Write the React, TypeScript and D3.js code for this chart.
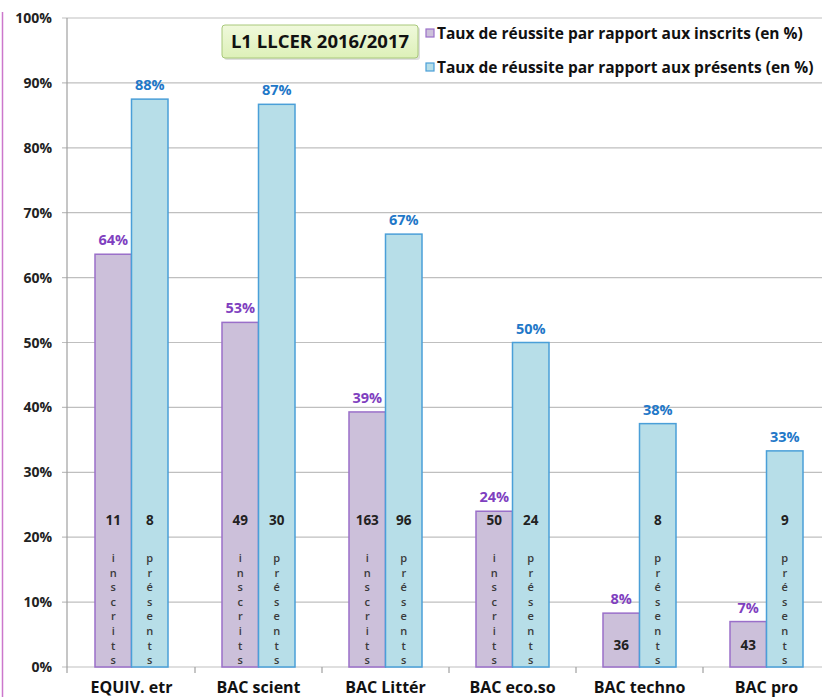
import React from "react";
import * as d3 from "d3";

const categories = ["EQUIV. etr", "BAC scient", "BAC Littér", "BAC eco.so", "BAC techno", "BAC pro"];
const inscritsRate = [63.6, 53.1, 39.3, 24.0, 8.3, 7.0];
const presentsRate = [87.5, 86.7, 66.7, 50.0, 37.5, 33.3];
const inscritsCount = [11, 49, 163, 50, 36, 43];
const presentsCount = [8, 30, 96, 24, 8, 9];
const yTicks = [0, 10, 20, 30, 40, 50, 60, 70, 80, 90, 100];
const titleText = "L1 LLCER 2016/2017";
const legendLabels = [
  "Taux de réussite par rapport aux inscrits (en %)",
  "Taux de réussite par rapport aux présents (en %)",
];
const wordInscrits = "inscrits";
const wordPresents = "présents";

const W = 822;
const H = 697;
const FONT = "'Open Sans', Lato, sans-serif";

const purpleFill = "#CCC0DA";
const purpleStroke = "#9A6FC9";
const purpleText = "#7F3FBF";
const blueFill = "#B7DEE8";
const blueStroke = "#4A9FD8";
const blueText = "#1F78C8";

export default function App() {
  const y = d3.scaleLinear().domain([0, 100]).range([667, 18]);
  const x = d3.scaleBand<string>().domain(categories).range([68, 830]).padding(0);
  const bw = 36.5;
  const series = [
    { rates: inscritsRate, counts: inscritsCount, word: wordInscrits, fill: purpleFill, stroke: purpleStroke, text: purpleText, off: -bw },
    { rates: presentsRate, counts: presentsCount, word: wordPresents, fill: blueFill, stroke: blueStroke, text: blueText, off: 0 },
  ];

  return (
    <svg width={W} height={H} style={{ position: "absolute", left: 0, top: 0, background: "#fff" }} fontFamily={FONT}>
      <rect x={0} y={0} width={W} height={H} fill="#fff" />
      {/* left border */}
      <line x1={2.5} x2={2.5} y1={12} y2={H} stroke="#CC77CC" strokeWidth={1.5} />
      {/* gridlines */}
      {yTicks.map((t) => (
        <line key={"g" + t} x1={62} x2={W} y1={y(t)} y2={y(t)} stroke="#BFBFBF" strokeWidth={1.2} />
      ))}
      {/* y axis */}
      <line x1={67} x2={67} y1={y(100)} y2={y(0) + 6} stroke="#A0A0A0" strokeWidth={1.2} />
      {yTicks.map((t) => (
        <text key={"yt" + t} x={52} y={y(t) + 5} textAnchor="end" fontSize={14} fontWeight={700} fill="#222">
          {t + "%"}
        </text>
      ))}
      {/* x ticks between categories */}
      {categories.slice(1).map((c) => (
        <line key={"xt" + c} x1={x(c)!} x2={x(c)!} y1={y(0)} y2={y(0) + 6} stroke="#A0A0A0" strokeWidth={1.2} />
      ))}
      {/* bars */}
      {categories.map((c, i) => {
        const cx = x(c)! + x.bandwidth() / 2;
        return (
          <g key={"b" + c}>
            {series.map((s, si) => {
              const v = s.rates[i];
              const bx = cx + s.off;
              const top = y(v);
              const countY = v > 20 ? y(21.9) : y(2.6);
              return (
                <g key={si}>
                  <rect x={bx} y={top} width={bw} height={y(0) - top} fill={s.fill} stroke={s.stroke} strokeWidth={1.5} />
                  <text x={bx + bw / 2} y={top - 9} textAnchor="middle" fontSize={14.5} fontWeight={700} fill={s.text}>
                    {Math.round(v) + "%"}
                  </text>
                  <text x={bx + bw / 2} y={countY} textAnchor="middle" fontSize={13.5} fontWeight={700} fill="#222">
                    {s.counts[i]}
                  </text>
                  {v > 20 &&
                    s.word.split("").map((ch, k) => (
                      <text key={k} x={bx + bw / 2} y={562 + k * 14.6} textAnchor="middle" fontSize={11} fontWeight={600} fill="#3a3a3a">
                        {ch}
                      </text>
                    ))}
                </g>
              );
            })}
            <text x={cx} y={693} textAnchor="middle" fontSize={16} fontWeight={700} fill="#111">
              {c}
            </text>
          </g>
        );
      })}
      {/* title box */}
      <defs>
        <linearGradient id="tg" x1="0" y1="0" x2="0" y2="1">
          <stop offset="0" stopColor="#F0F9DC" />
          <stop offset="1" stopColor="#DDF0B8" />
        </linearGradient>
      </defs>
      <rect x={224} y={27} width={196} height={33} rx={3} fill="#C8C8C8" opacity={0.6} />
      <rect x={222} y={25} width={196} height={33} rx={3} fill="url(#tg)" stroke="#A8C87A" strokeWidth={1} />
      <text x={320} y={48} textAnchor="middle" fontSize={18.5} fontWeight={700} fill="#111">
        {titleText}
      </text>
      {/* legend */}
      {legendLabels.map((l, i) => (
        <g key={"l" + i}>
          <rect x={426} y={29 + i * 34} width={8} height={8} fill={series[i].fill} stroke={series[i].stroke} strokeWidth={1.2} />
          <text x={437} y={38.5 + i * 34} fontSize={15.5} fontWeight={700} fill="#111">
            {l}
          </text>
        </g>
      ))}
    </svg>
  );
}
